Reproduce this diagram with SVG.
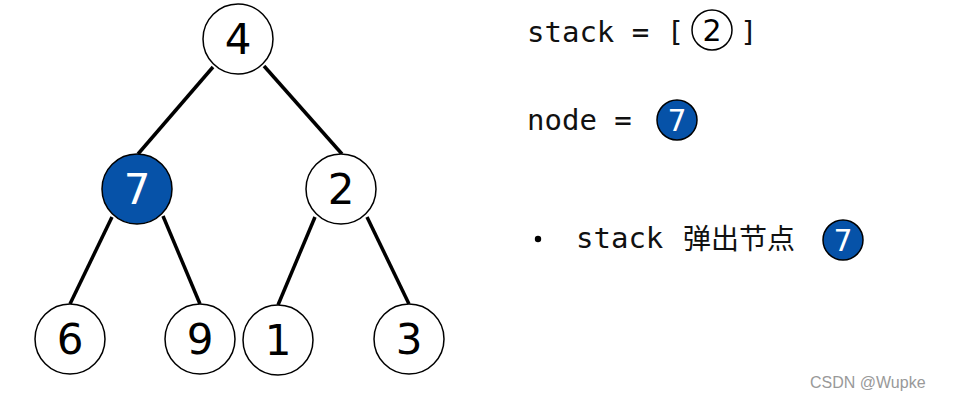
<svg xmlns="http://www.w3.org/2000/svg" width="956" height="404" viewBox="0 0 956 404">
<style>
.n circle{fill:#fff;stroke:#000;stroke-width:1.5}
.n.hl circle{fill:#0652a8}
.n text{font-family:"DejaVu Sans",sans-serif;font-size:42px;text-anchor:middle;fill:#000}
.n.hl text{fill:#fff}
.s circle{fill:#fff;stroke:#000;stroke-width:1.5}
.s.hl circle{fill:#0652a8}
.s text{font-family:"DejaVu Sans",sans-serif;font-size:30px;text-anchor:middle;fill:#000}
.s.hl text{fill:#fff}
.mono{font-family:"DejaVu Sans Mono",monospace;font-size:29px;fill:#111}
.cjk{font-family:"Noto Sans CJK SC",sans-serif;font-size:28px;fill:#111}
#edges line{stroke:#000;stroke-width:3.5}
</style>
<rect width="956" height="404" fill="#fff"/>
<g id="edges">
<line x1="213" y1="67" x2="138" y2="154"/>
<line x1="264" y1="66" x2="342" y2="154"/>
<line x1="112" y1="217" x2="70" y2="304"/>
<line x1="163" y1="216" x2="200" y2="304"/>
<line x1="315" y1="217" x2="278" y2="305"/>
<line x1="367" y1="217" x2="409" y2="304"/>
</g>
<g id="n4" class="n"><circle cx="238" cy="39" r="35"/><text x="238" y="54">4</text></g>
<g id="n7" class="n hl"><circle cx="137" cy="189" r="35"/><text x="137" y="204">7</text></g>
<g id="n2" class="n"><circle cx="341" cy="189" r="35"/><text x="341" y="204">2</text></g>
<g id="n6" class="n"><circle cx="70" cy="339" r="35"/><text x="70" y="354">6</text></g>
<g id="n9" class="n"><circle cx="200" cy="339" r="35"/><text x="200" y="354">9</text></g>
<g id="n1" class="n"><circle cx="278" cy="340" r="35"/><text x="278" y="355">1</text></g>
<g id="n3" class="n"><circle cx="409" cy="339" r="35"/><text x="409" y="354">3</text></g>
<g id="stack">
<text class="mono" x="527" y="42">stack = [</text>
<g class="s"><circle cx="712" cy="30" r="20"/><text x="712" y="41">2</text></g>
<text class="mono" x="740" y="42">]</text>
</g>
<g id="node">
<text class="mono" x="527" y="130">node =</text>
<g class="s hl"><circle cx="677" cy="120" r="20"/><text x="677" y="131">7</text></g>
</g>
<g id="bullet">
<circle cx="538" cy="239" r="3.2" fill="#000"/>
<text class="mono" x="576" y="248">stack</text>
<text class="cjk" x="683" y="249">弹出节点</text>
<g class="s hl"><circle cx="843" cy="240" r="20"/><text x="843" y="251">7</text></g>
</g>
<text x="810" y="388" font-family="Liberation Sans,Arial,sans-serif" font-size="16" fill="#999">CSDN @Wupke</text>
</svg>
